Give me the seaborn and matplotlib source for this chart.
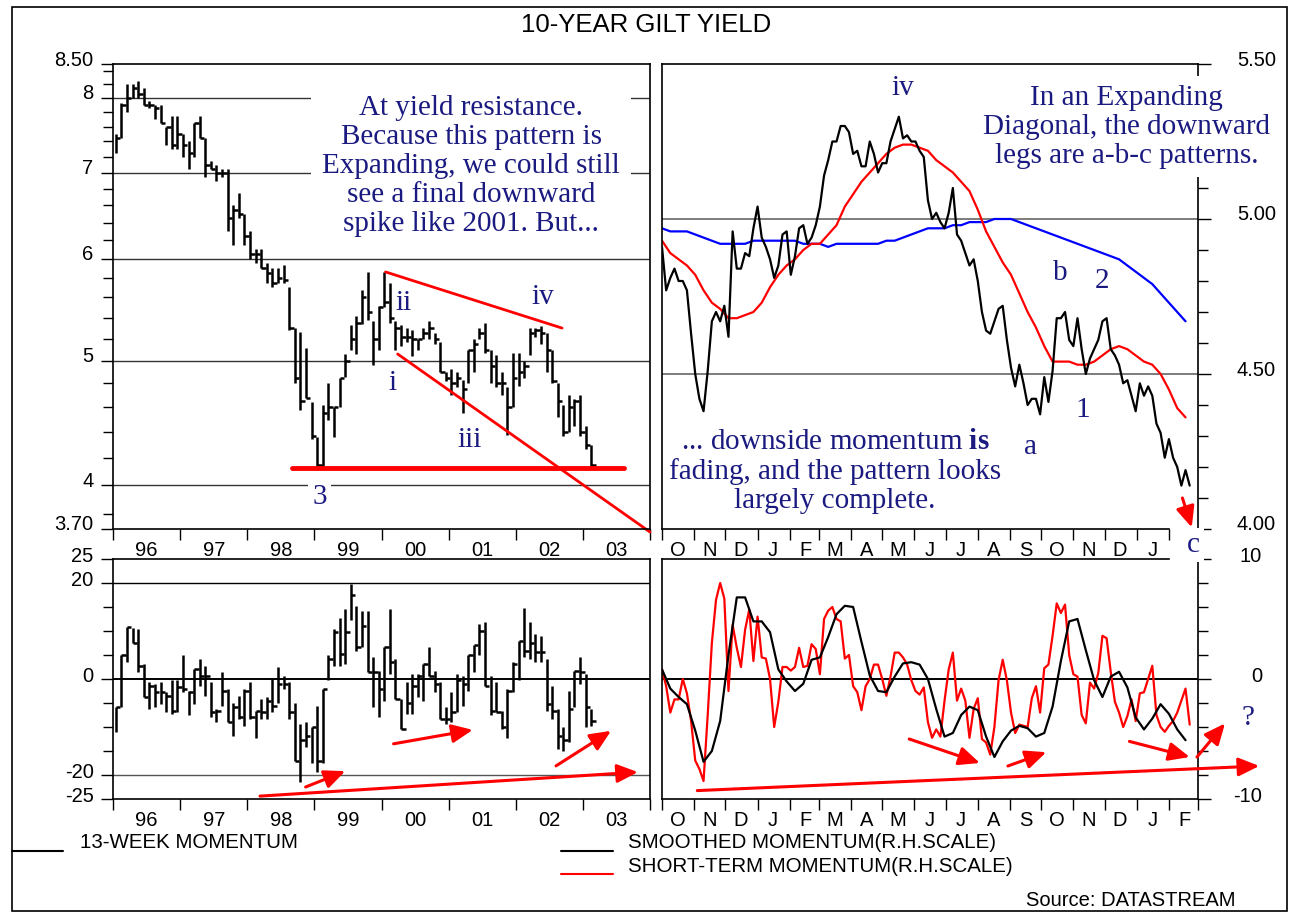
import numpy as np
import pandas as pd
import matplotlib
matplotlib.use('Agg')
import matplotlib.pyplot as plt
import matplotlib.dates as mdates
import matplotlib.ticker as mticker
import matplotlib.transforms as mtrans
from matplotlib.lines import Line2D
from matplotlib.patches import Rectangle
import seaborn as sns

# ---------------- monthly bars, Jan 1996 - Feb 2003 ----------------
yld_high = [7.50, 7.93, 8.20, 8.20, 8.25, 8.15, 7.95, 7.90, 7.90, 7.60, 7.75, 7.75,
            7.50, 7.40, 7.65, 7.75, 7.45, 7.15, 7.10, 7.05, 7.05, 6.60, 6.75, 6.50,
            6.30, 6.10, 6.10, 5.95, 5.90, 5.90, 5.93, 5.70, 5.30, 5.26, 5.11, 4.64,
            4.36, 4.62, 4.80, 4.60, 4.85, 5.06, 5.33, 5.42, 5.67, 5.86, 5.37, 5.51,
            5.86, 5.75, 5.37, 5.33, 5.30, 5.28, 5.20, 5.30, 5.37, 5.25, 5.17, 4.90,
            4.93, 4.90, 4.83, 5.10, 5.20, 5.30, 5.35, 5.10, 5.05, 4.90, 4.77, 5.07,
            5.07, 5.00, 5.30, 5.30, 5.32, 5.25, 5.10, 4.80, 4.62, 4.70, 4.67, 4.70,
            4.45, 4.30]
yld_low = [7.25, 7.45, 7.80, 8.00, 8.00, 7.90, 7.85, 7.70, 7.65, 7.35, 7.30, 7.30,
           7.20, 7.05, 7.20, 7.45, 6.95, 7.05, 6.90, 6.95, 6.30, 6.15, 6.45, 6.15,
           6.00, 5.95, 5.90, 5.75, 5.70, 5.75, 5.75, 5.28, 4.80, 4.58, 4.68, 4.35,
           4.13, 4.13, 4.50, 4.36, 4.60, 4.86, 5.10, 5.06, 5.34, 5.38, 4.96, 5.10,
           5.50, 5.35, 5.10, 5.13, 5.17, 5.04, 5.10, 5.20, 5.20, 5.15, 4.90, 4.82,
           4.70, 4.77, 4.55, 4.80, 4.90, 5.20, 5.07, 4.80, 4.77, 4.70, 4.38, 4.60,
           4.78, 4.85, 5.05, 5.22, 5.15, 4.90, 4.80, 4.52, 4.37, 4.40, 4.45, 4.37,
           4.27, 4.13]
yld_close = [7.45, 7.90, 8.00, 8.15, 8.05, 7.90, 7.90, 7.85, 7.65, 7.60, 7.35, 7.50,
             7.35, 7.25, 7.65, 7.45, 7.10, 7.05, 7.00, 7.00, 6.45, 6.55, 6.50, 6.25,
             6.05, 6.05, 5.90, 5.85, 5.75, 5.80, 5.78, 5.30, 4.85, 4.65, 4.68, 4.37,
             4.15, 4.55, 4.60, 4.60, 4.85, 5.00, 5.20, 5.35, 5.60, 5.45, 5.20, 5.50,
             5.55, 5.40, 5.30, 5.22, 5.22, 5.20, 5.20, 5.25, 5.30, 5.20, 4.90, 4.85,
             4.80, 4.85, 4.75, 5.10, 5.15, 5.25, 5.10, 4.95, 4.80, 4.80, 4.60, 4.85,
             4.90, 4.95, 5.25, 5.28, 5.25, 5.10, 4.82, 4.65, 4.40, 4.60, 4.65, 4.40,
             4.30, 4.15]

mom_high = [-5.9, 5.0, 10.8, 10.6, 10.4, 3.1, -0.7, -1.0, -0.7, -2.8, -0.3, -0.3,
            5.0, -2.4, 2.1, 4.2, 2.8, -0.7, -6.2, 1.5, -2.1, -4.9, -3.5, -2.1,
            -0.6, -6.6, -4.2, -3.8, 0.3, 2.4, 0.7, -0.7, -4.9, -9.4, -9.0, -10.1,
            -5.6, -2.1, 4.9, 10.4, 12.8, 14.6, 19.8, 15.3, 14.2, 14.2, 4.5, 1.7,
            6.6, 14.6, 4.2, -4.2, -0.7, 1.0, 1.0, 3.1, 6.6, 1.7, -0.7, -5.9,
            -2.8, 1.0, 0.7, 4.9, 7.1, 11.5, 11.9, 0.7, -0.7, -6.6, -2.1, 3.5,
            8.0, 14.7, 11.8, 9.4, 9.0, 4.2, -1.4, -6.2, -10.1, -2.4, 1.7, 4.5,
            1.0, -6.2]
mom_low = [-11.1, -5.9, 3.5, 7.6, 1.4, -3.8, -6.2, -5.9, -5.2, -6.9, -7.3, -6.9,
           -2.8, -7.4, -5.2, -1.4, -3.5, -8.0, -9.0, -5.6, -9.0, -11.9, -8.3, -9.7,
           -8.3, -12.3, -8.3, -8.3, -6.9, -4.9, -2.1, -8.3, -17.0, -21.5, -14.2, -17.4,
           -19.4, -17.4, -0.3, 2.8, 2.8, 3.1, 12.2, 5.9, 6.6, 1.4, -5.9, -8.0,
           -4.5, 1.0, -4.2, -10.4, -7.3, -7.3, -3.8, -4.5, 0.7, -2.8, -8.3, -9.4,
           -9.0, -6.9, -5.6, -2.4, 1.4, 4.9, -1.4, -7.6, -6.9, -10.4, -12.2, -2.8,
           -0.3, 4.5, 4.2, 3.5, 3.5, -6.6, -8.3, -14.6, -14.9, -13.2, -5.9, -1.0,
           -10.1, -9.7]
mom_close = [-5.9, 5.0, 10.8, 7.6, 2.8, -3.8, -1.4, -2.8, -2.8, -3.5, -6.6, -1.7,
             -2.1, -2.8, 2.1, 0.7, 0.7, -6.9, -6.6, -2.4, -9.0, -5.9, -8.0, -2.4,
             -8.0, -6.6, -6.9, -4.5, -5.6, -1.0, -1.0, -6.9, -17.0, -12.8, -11.8, -10.1,
             -17.0, -2.1, 4.2, 9.7, 5.2, 9.7, 17.4, 6.6, 11.1, 1.4, 1.4, -2.1,
             6.6, 3.5, -4.2, -10.4, -4.9, -1.4, 0.7, 3.1, 0.7, -1.0, -8.3, -8.3,
             -6.9, -0.3, -1.0, 4.9, 7.1, 10.1, -1.4, -6.6, -6.9, -10.1, -2.4, 3.1,
             8.0, 5.9, 7.6, 5.6, 5.6, -5.2, -6.6, -11.8, -12.8, -6.2, 1.7, 1.4,
             -5.9, -8.7]

year_labels = ['96', '97', '98', '99', '00', '01', '02', '03']

# ---------------- daily panel, Oct 2001 - Feb 2003 ----------------
# yield sampled every 4 days from 1 Oct 2001
daily_yield = [4.91, 4.77, 4.81, 4.84, 4.80, 4.80, 4.77, 4.63, 4.50, 4.42,
               4.38, 4.51, 4.67, 4.70, 4.67, 4.72, 4.62, 4.96, 4.84, 4.84,
               4.89, 4.88, 4.97, 5.04, 4.94, 4.91, 4.87, 4.81, 4.85, 4.95,
               4.96, 4.82, 4.88, 4.97, 4.98, 4.92, 4.94, 4.98, 5.04, 5.14,
               5.19, 5.25, 5.25, 5.30, 5.30, 5.28, 5.21, 5.22, 5.17, 5.17,
               5.25, 5.21, 5.15, 5.18, 5.18, 5.25, 5.29, 5.33, 5.26, 5.27,
               5.25, 5.25, 5.22, 5.20, 5.06, 5.00, 5.02, 4.99, 4.97, 5.02,
               5.10, 4.95, 4.93, 4.89, 4.85, 4.87, 4.80, 4.70, 4.64, 4.63,
               4.67, 4.71, 4.72, 4.61, 4.52, 4.46, 4.53, 4.47, 4.40, 4.42,
               4.42, 4.37, 4.49, 4.41, 4.51, 4.68, 4.68, 4.70, 4.61, 4.59,
               4.68, 4.58, 4.50, 4.55, 4.58, 4.61, 4.67, 4.68, 4.58, 4.56,
               4.53, 4.47, 4.48, 4.43, 4.38, 4.47, 4.43, 4.46, 4.43, 4.34,
               4.31, 4.23, 4.29, 4.23, 4.20, 4.14, 4.19, 4.14]
# moving averages sampled every 8 days
ma_short = [4.93, 4.89, 4.87, 4.85, 4.82, 4.77, 4.73, 4.71, 4.68, 4.68,
            4.69, 4.70, 4.73, 4.78, 4.82, 4.85, 4.87, 4.90, 4.92, 4.92,
            4.95, 4.98, 5.04, 5.08, 5.12, 5.15, 5.18, 5.21, 5.23, 5.24,
            5.24, 5.23, 5.22, 5.19, 5.17, 5.15, 5.12, 5.09, 5.03, 4.96,
            4.91, 4.86, 4.82, 4.76, 4.70, 4.65, 4.59, 4.54, 4.54, 4.54,
            4.53, 4.53, 4.54, 4.56, 4.58, 4.59, 4.58, 4.56, 4.54, 4.53,
            4.50, 4.45, 4.39, 4.36]
ma_long = [4.97, 4.96, 4.96, 4.96, 4.95, 4.94, 4.93, 4.92, 4.92, 4.92,
           4.92, 4.93, 4.93, 4.93, 4.93, 4.93, 4.93, 4.92, 4.92, 4.92,
           4.91, 4.92, 4.92, 4.92, 4.92, 4.92, 4.92, 4.93, 4.93, 4.94,
           4.95, 4.96, 4.97, 4.97, 4.97, 4.98, 4.98, 4.99, 4.99, 4.99,
           5.00, 5.00, 5.00, 4.99, 4.98, 4.97, 4.96, 4.95, 4.94, 4.93,
           4.92, 4.91, 4.90, 4.89, 4.88, 4.87, 4.85, 4.83, 4.81, 4.79,
           4.76, 4.73, 4.70, 4.67]
mom_smooth = [0.8, -0.8, -1.5, -2.1, -4.3, -6.9, -6.0, -3.5, 2.0, 6.8,
              6.8, 4.8, 4.8, 3.9, 0.8, -0.2, -1.0, -0.4, 1.6, 1.8,
              3.5, 5.4, 6.1, 6.0, 3.1, 0.3, -1.0, -1.1, 0.2, 1.3,
              1.4, 1.2, 0.0, -2.5, -4.8, -4.5, -3.0, -2.3, -2.6, -4.8,
              -6.5, -5.2, -4.3, -3.9, -4.1, -4.8, -4.5, -2.3, 1.5, 4.8,
              5.0, 2.4, -0.1, -1.5, 0.2, 0.6, -0.7, -3.2, -4.2, -3.3,
              -2.1, -2.9, -4.2, -5.1]
mom_short = [0.8, -0.6, -2.8, -1.7, -1.7, 0.0, -1.2, -3.5, -6.8, -7.5,
             -8.5, -3.0, 3.0, 6.6, 8.0, 6.7, -1.0, 4.5, 2.6, 1.0,
             4.1, 5.8, 1.5, 5.2, 1.8, 1.7, 0.0, -4.0, -1.9, 1.0,
             1.0, 0.7, 1.0, 2.6, 1.0, 1.1, 2.9, 2.5, 0.4, 5.0,
             5.7, 6.0, 5.0, 4.8, 1.7, 2.0, -0.6, -1.1, -2.6, -0.6,
             0.0, 1.2, 1.2, 0.0, -1.4, 0.2, 2.2, 2.2, 1.8, 1.2,
             -0.1, -1.0, -1.3, -0.7, -3.6, -4.9, -4.2, -4.8, -1.8, 0.8,
             2.2, -1.8, -0.8, -1.8, -4.9, -2.5, -1.6, -5.0, -5.3, -6.3,
             -4.0, -0.1, 1.6, -0.1, -2.8, -4.5, -3.8, -3.9, -4.0, -1.6,
             -0.6, -2.8, 0.9, 1.2, 3.6, 6.3, 5.5, 6.2, 2.0, 0.4,
             0.2, -3.0, -3.7, -0.3, -0.8, 0.5, 3.6, 3.4, 0.6, -1.9,
             -2.8, -4.0, -3.1, -1.7, -3.5, -1.2, -1.1, 0.0, 1.1, -3.0,
             -4.0, -4.4, -3.9, -3.5, -2.8, -1.8, -0.8, -3.8]
month_labels = ['O', 'N', 'D', 'J', 'F', 'M', 'A', 'M', 'J', 'J', 'A', 'S',
                'O', 'N', 'D', 'J', 'F']

# ---------------- hand-drawn annotations ----------------
trend_upper = ([2000.06, 2002.69], [5.86, 5.30])
trend_lower = ([2000.24, 2004.0], [5.06, 3.68])
support = ([1998.66, 2003.61], [4.13, 4.13])
bl_arrows = [((1998.19, -24.4), (2003.82, -19.4)),
             ((1998.87, -22.5), (1999.46, -19.2)),
             ((2000.18, -13.5), (2001.36, -10.6)),
             ((2002.60, -18.1), (2003.42, -10.8))]
br_arrows = [(('2001-11-04', -9.3), ('2003-04-29', -7.25)),
             (('2002-05-27', -5.0), ('2002-08-03', -7.0)),
             (('2002-08-30', -7.25), ('2002-10-06', -6.1)),
             (('2002-12-25', -5.2), ('2003-02-21', -6.5)),
             (('2003-02-28', -6.5), ('2003-03-27', -3.7))]
tr_arrow = (('2003-02-14', 4.10), ('2003-02-23', 4.005))

sns.set_theme(style='white')
plt.rcParams['font.family'] = ['Liberation Sans', 'DejaVu Sans']
plt.rcParams['axes.edgecolor'] = 'black'
plt.rcParams['axes.linewidth'] = 1.2
plt.rcParams['axes.unicode_minus'] = False
plt.rcParams['xtick.color'] = 'black'
plt.rcParams['ytick.color'] = 'black'
plt.rcParams['text.color'] = 'black'
plt.rcParams['mathtext.fontset'] = 'custom'
plt.rcParams['mathtext.rm'] = 'Liberation Serif'
plt.rcParams['mathtext.bf'] = 'Liberation Serif:bold'

navy = '#1a1a80'
ann = dict(family=['Liberation Serif', 'DejaVu Serif'], size=21, color=navy)
white_box = dict(facecolor='white', edgecolor='none', pad=3)
arrow_kw = dict(arrowstyle='-|>,head_length=0.9,head_width=0.4', color='red',
                lw=2.2, mutation_scale=14, shrinkA=0, shrinkB=0)
tick_size = 14.5

W, H = 1297, 917
fig = plt.figure(figsize=(W / 100, H / 100), dpi=100)


def box(x0, y0, x1, y1):
    return fig.add_axes([x0 / W, 1 - y1 / H, (x1 - x0) / W, (y1 - y0) / H])


def lift(labels, dy=6):
    off = mtrans.ScaledTranslation(0, dy / 100, fig.dpi_scale_trans)
    for lab in labels:
        lab.set_transform(lab.get_transform() + off)


ax_tl = box(113, 64, 650, 529)
ax_tr = box(662, 64, 1198, 529)
ax_bl = box(113, 559, 650, 799)
ax_br = box(662, 559, 1198, 799)

x_month = 1996 + (np.arange(len(yld_close)) + 0.5) / 12


def hlc_bars(ax, hi, lo, cl):
    ax.vlines(x_month, lo, hi, color='black', lw=1.8)
    ax.hlines(cl, x_month, x_month + 0.8 / 12, color='black', lw=1.8)


def year_axis(ax):
    ax.set_xlim(1996, 2004)
    ax.xaxis.set_major_locator(mticker.FixedLocator(np.arange(1996, 2005)))
    ax.xaxis.set_major_formatter(mticker.NullFormatter())
    ax.xaxis.set_minor_locator(mticker.FixedLocator(np.arange(1996.5, 2004)))
    ax.xaxis.set_minor_formatter(mticker.FixedFormatter(year_labels))
    ax.tick_params(axis='x', which='major', bottom=True, top=False, direction='out', length=8, width=1)
    ax.tick_params(axis='x', which='minor', bottom=True, top=False, length=0, labelsize=tick_size, pad=9)


######## top left: monthly yield bars ########
hlc_bars(ax_tl, yld_high, yld_low, yld_close)
ax_tl.set_yscale('log')
ax_tl.set_ylim(3.70, 8.50)
for lvl in [4, 5, 6, 7, 8]:
    ax_tl.axhline(lvl, color='#333333', lw=1, zorder=0.5)
ax_tl.yaxis.set_major_locator(mticker.FixedLocator([3.7, 4, 5, 6, 7, 8, 8.5]))
ax_tl.yaxis.set_major_formatter(mticker.FixedFormatter(['3.70', '4', '5', '6', '7', '8', '8.50']))
ax_tl.yaxis.set_minor_locator(mticker.FixedLocator(np.arange(3.8, 8.45, 0.2)))
ax_tl.yaxis.set_minor_formatter(mticker.NullFormatter())
year_axis(ax_tl)
ax_tl.tick_params(axis='y', which='both', left=True, direction='out', width=1, labelsize=tick_size, pad=5)
ax_tl.tick_params(axis='y', which='major', length=9)
ax_tl.tick_params(axis='y', which='minor', length=7)
lift(ax_tl.get_yticklabels())

ax_tl.plot(*trend_upper, color='red', lw=2)
ax_tl.plot(*trend_lower, color='red', lw=2, clip_on=False)
ax_tl.plot(*support, color='red', lw=3.5)

ax_tl.text(0.667, 0.780, 'At yield resistance.\nBecause this pattern is\nExpanding, we could still\n'
           'see a final downward\nspike like 2001. But...', transform=ax_tl.transAxes,
           ha='center', va='center', linespacing=1.15, bbox=dict(facecolor='white', edgecolor='none', pad=8), **ann)
for txt, fx, fy in [('ii', 0.542, 0.486), ('i', 0.521, 0.314), ('iii', 0.665, 0.191), ('iv', 0.801, 0.499)]:
    ax_tl.text(fx, fy, txt, transform=ax_tl.transAxes, ha='center', va='center', **ann)
ax_tl.text(0.385, 0.069, '3', transform=ax_tl.transAxes, ha='center', va='center', bbox=white_box, **ann)

######## top right: daily yield with moving averages ########
start, end = pd.Timestamp('2001-10-01'), pd.Timestamp('2003-03-01')
d4 = pd.date_range(start, periods=len(daily_yield), freq='4D')
d8 = pd.date_range(start, periods=len(ma_short), freq='8D')
sns.lineplot(x=d8, y=ma_long, ax=ax_tr, color='blue', lw=1.6)
sns.lineplot(x=d8, y=ma_short, ax=ax_tr, color='red', lw=1.6)
sns.lineplot(x=d4, y=daily_yield, ax=ax_tr, color='black', lw=1.6)
ax_tr.set_xlim(start, end)
ax_tr.set_ylim(4.0, 5.5)
ax_tr.set_xlabel('')
ax_tr.set_ylabel('')
for lvl in [4.5, 5.0]:
    ax_tr.axhline(lvl, color='#666666', lw=1.2, zorder=0.5)

tr_ticks = pd.date_range(start, '2003-02-01', freq='MS')
ax_tr.xaxis.set_major_locator(mticker.FixedLocator(mdates.date2num(tr_ticks)))
ax_tr.xaxis.set_major_formatter(mticker.NullFormatter())
ax_tr.xaxis.set_minor_locator(mticker.FixedLocator(mdates.date2num(tr_ticks[:-1] + pd.Timedelta(days=15))))
ax_tr.xaxis.set_minor_formatter(mticker.FixedFormatter(month_labels[:16]))
ax_tr.tick_params(axis='x', which='major', bottom=True, direction='out', length=8, width=1)
ax_tr.tick_params(axis='x', which='minor', bottom=True, length=0, labelsize=tick_size, pad=9)
ax_tr.spines['bottom'].set_bounds(mdates.date2num(start), mdates.date2num(tr_ticks[-1]))

ax_tr.yaxis.tick_right()
ax_tr.yaxis.set_major_locator(mticker.FixedLocator([4.0, 4.5, 5.0, 5.5]))
ax_tr.yaxis.set_major_formatter(mticker.FixedFormatter(['4.00', '4.50', '5.00', '5.50']))
ax_tr.yaxis.set_minor_locator(mticker.FixedLocator(np.arange(4.1, 5.45, 0.1)))
ax_tr.tick_params(axis='y', which='both', right=True, left=False, direction='out', width=1, labelsize=tick_size, pad=47)
ax_tr.tick_params(axis='y', which='major', length=9)
ax_tr.tick_params(axis='y', which='minor', length=7)
for lab in ax_tr.get_yticklabels():
    lab.set_ha('right')
lift(ax_tr.get_yticklabels())

ax_tr.text(0.867, 0.865, 'In an Expanding\nDiagonal, the downward\nlegs are a-b-c patterns.',
           transform=ax_tr.transAxes, ha='center', va='center', linespacing=1.15,
           bbox=dict(facecolor='white', edgecolor='none', pad=6), **ann)
ax_tr.text(0.323, 0.124, '... downside momentum $\\mathbf{is}$\nfading, and the pattern looks\nlargely complete.',
           transform=ax_tr.transAxes, ha='center', va='center', linespacing=1.15, **ann)
for txt, fx, fy in [('iv', 0.450, 0.948), ('b', 0.743, 0.551), ('2', 0.821, 0.533),
                    ('1', 0.785, 0.256), ('a', 0.687, 0.176)]:
    ax_tr.text(fx, fy, txt, transform=ax_tr.transAxes, ha='center', va='center', **ann)
(sx, sy), (ex, ey) = tr_arrow
ax_tr.annotate('', xy=(pd.Timestamp(ex), ey), xytext=(pd.Timestamp(sx), sy),
               arrowprops=arrow_kw, annotation_clip=False)

######## bottom left: 13-week momentum ########
hlc_bars(ax_bl, mom_high, mom_low, mom_close)
ax_bl.set_ylim(-25, 25)
ax_bl.axhline(20, color='black', lw=1, zorder=0.5)
ax_bl.axhline(-20, color='#555555', lw=1, zorder=0.5)
ax_bl.axhline(0, color='black', lw=1.4, zorder=0.5)
ax_bl.yaxis.set_major_locator(mticker.FixedLocator([-25, -20, 0, 20, 25]))
ax_bl.yaxis.set_minor_locator(mticker.FixedLocator(np.arange(-15, 20, 5)))
year_axis(ax_bl)
ax_bl.tick_params(axis='y', which='both', left=True, direction='out', width=1, labelsize=tick_size, pad=5)
ax_bl.tick_params(axis='y', which='major', length=9)
ax_bl.tick_params(axis='y', which='minor', length=7)
lift(ax_bl.get_yticklabels(), 5)
for (sx, sy), (ex, ey) in bl_arrows:
    ax_bl.annotate('', xy=(ex, ey), xytext=(sx, sy), arrowprops=arrow_kw, annotation_clip=False)

######## bottom right: daily momentum ########
sns.lineplot(x=d4, y=mom_short, ax=ax_br, color='red', lw=1.6)
sns.lineplot(x=d8, y=mom_smooth, ax=ax_br, color='black', lw=1.6)
ax_br.axhline(0, color='black', lw=1.4, zorder=0.5)
ax_br.set_xlim(start, end)
ax_br.set_ylim(-10, 10)
ax_br.set_xlabel('')
ax_br.set_ylabel('')
br_ticks = pd.date_range(start, end, freq='MS')
ax_br.xaxis.set_major_locator(mticker.FixedLocator(mdates.date2num(br_ticks)))
ax_br.xaxis.set_major_formatter(mticker.NullFormatter())
ax_br.xaxis.set_minor_locator(mticker.FixedLocator(mdates.date2num(br_ticks[:-1] + pd.Timedelta(days=15))))
ax_br.xaxis.set_minor_formatter(mticker.FixedFormatter(month_labels))
ax_br.tick_params(axis='x', which='major', bottom=True, direction='out', length=8, width=1)
ax_br.tick_params(axis='x', which='minor', bottom=True, length=0, labelsize=tick_size, pad=9)
ax_br.spines['top'].set_bounds(mdates.date2num(start), mdates.date2num(tr_ticks[-1]))

ax_br.yaxis.tick_right()
ax_br.yaxis.set_major_locator(mticker.FixedLocator([-10, 0, 10]))
ax_br.yaxis.set_minor_locator(mticker.FixedLocator(np.arange(-8, 10, 2)))
ax_br.tick_params(axis='y', which='both', right=True, left=False, direction='out', width=1, labelsize=tick_size, pad=37)
ax_br.tick_params(axis='y', which='major', length=9)
ax_br.tick_params(axis='y', which='minor', length=7)
for lab in ax_br.get_yticklabels():
    lab.set_ha('right')
lift(ax_br.get_yticklabels(), 5)
for (sx, sy), (ex, ey) in br_arrows:
    ax_br.annotate('', xy=(pd.Timestamp(ex), ey), xytext=(pd.Timestamp(sx), sy),
                   arrowprops=arrow_kw, annotation_clip=False)

######## figure level text ########
fig.text(646 / W, 1 - 25 / H, '10-YEAR GILT YIELD', ha='center', va='center', size=18.5)
fig.text(1193 / W, 1 - 545 / H, 'c', ha='center', va='center', bbox=white_box, zorder=5, **ann)
fig.text(1248 / W, 1 - 718 / H, '?', ha='center', va='center', zorder=5, **ann)

fig.add_artist(Line2D([12 / W, 63 / W], [1 - 851 / H] * 2, color='black', lw=1.5))
fig.text(80 / W, 1 - 843 / H, '13-WEEK MOMENTUM', va='center', size=14.8)
fig.add_artist(Line2D([561 / W, 613 / W], [1 - 851 / H] * 2, color='black', lw=1.5))
fig.text(628 / W, 1 - 843 / H, 'SMOOTHED MOMENTUM(R.H.SCALE)', va='center', size=14.8)
fig.add_artist(Line2D([561 / W, 613 / W], [1 - 874 / H] * 2, color='red', lw=1.5))
fig.text(628 / W, 1 - 866 / H, 'SHORT-TERM MOMENTUM(R.H.SCALE)', va='center', size=14.8)
fig.text(1236 / W, 1 - 900 / H, 'Source: DATASTREAM', ha='right', va='center', size=14.5)
fig.add_artist(Rectangle((12 / W, 1 - 911 / H), (1287 - 12) / W, (911 - 7) / H,
                         transform=fig.transFigure, fill=False, lw=1.2, ec='black'))

fig.savefig('out.png', dpi=100)
